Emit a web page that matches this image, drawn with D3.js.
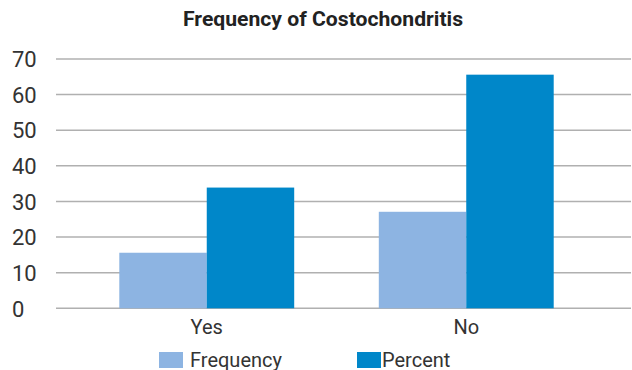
<!DOCTYPE html>
<html><head><meta charset="utf-8">
<script src="https://cdn.jsdelivr.net/npm/d3@7"></script>
<style>body{margin:0;background:#fff}svg{display:block}text{font-family:Roboto,"Noto Sans",sans-serif;fill:#333}</style>
</head><body><svg id="c" width="632" height="370"></svg>
<script>
const categories = ["Yes", "No"];
const seriesNames = ["Frequency", "Percent"];
const frequency = [15.6, 27.1];
const percent = [33.9, 65.6];
const yTicks = [0, 10, 20, 30, 40, 50, 60, 70];
const colors = ["#8DB4E2", "#0087C9"];

const svg = d3.select("#c");
const x = d3.scaleBand().domain(categories).range([77, 596]).paddingInner(0.326).paddingOuter(0.163);
const xs = d3.scaleBand().domain(seriesNames).range([0, x.bandwidth()]);
const y = d3.scaleLinear().domain([0, 70]).range([308.3, 59]);

svg.append("text").attr("x", 323).attr("y", 26).attr("text-anchor", "middle")
  .attr("textLength", 280).attr("lengthAdjust", "spacingAndGlyphs")
  .style("font-weight", "bold").style("font-size", "20px").style("fill", "#222").text("Frequency of Costochondritis");

const yAxis = svg.append("g").call(d3.axisLeft(y).tickValues(yTicks).tickSize(0).tickFormat(d3.format("d")));
yAxis.select(".domain").remove();
yAxis.selectAll(".tick text").attr("x", 12).attr("dy", "0.35em").attr("text-anchor", "start")
  .style("font-size", "22px").style("font-family", "Roboto").attr("fill", "#333");

svg.append("g").selectAll("line").data(yTicks).join("line")
  .attr("x1", 56).attr("x2", 631).attr("y1", d => y(d)).attr("y2", d => y(d))
  .attr("stroke", "#b0b0b0").attr("stroke-width", 1.5);

const rows = categories.map((c, i) => ({ c, vals: [frequency[i], percent[i]] }));
const g = svg.append("g").selectAll("g").data(rows).join("g").attr("transform", d => `translate(${x(d.c)},0)`);
g.selectAll("rect").data(d => d.vals.map((v, j) => ({ s: seriesNames[j], v, j }))).join("rect")
  .attr("x", d => xs(d.s)).attr("width", xs.bandwidth())
  .attr("y", d => y(d.v)).attr("height", d => y(0) - y(d.v)).attr("fill", d => colors[d.j]);

const xAxis = svg.append("g").attr("transform", "translate(0,309)").call(d3.axisBottom(x).tickSize(0));
xAxis.select(".domain").remove();
xAxis.selectAll(".tick text").attr("y", 0).attr("dy", "25px").style("font-size", "20px").style("font-family", "Roboto").attr("fill", "#333");

const legendX = [159, 357];
const lg = svg.append("g").selectAll("g").data(seriesNames).join("g").attr("transform", (d, i) => `translate(${legendX[i]},352)`);
lg.append("rect").attr("width", 24).attr("height", 16).attr("fill", (d, i) => colors[i]);
lg.append("text").attr("x", (d, i) => i === 0 ? 31 : 25).attr("y", 14.5).style("font-size", "20px").text(d => d);
</script></body></html>
